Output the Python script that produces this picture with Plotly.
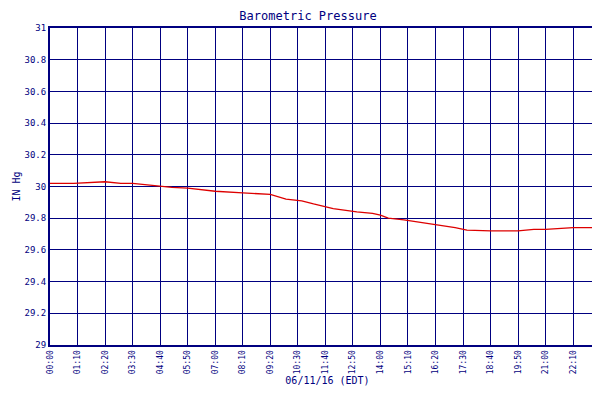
import plotly.graph_objects as go

# minutes after midnight and pressure (inHg)
minutes = [0, 60, 140, 180, 210, 250, 280, 310, 350, 420, 490, 560, 600, 640, 670,
           720, 780, 820, 840, 860, 900, 980, 1030, 1060, 1120, 1190, 1230, 1260,
           1330, 1380, 1410]
pressure = [30.02, 30.02, 30.03, 30.02, 30.02, 30.01, 30.00, 29.995, 29.99, 29.97,
            29.96, 29.95, 29.92, 29.91, 29.89, 29.86, 29.84, 29.83, 29.82, 29.80,
            29.79, 29.76, 29.74, 29.725, 29.72, 29.72, 29.73, 29.73, 29.74, 29.74,
            29.74]

tick_vals = [i * 70 for i in range(20)] + [1401, 1406]
tick_text = ["%02d:%02d" % divmod(v, 60) for v in tick_vals[:20]] + ["23:50", "23:59"]
y_ticks = [29 + 0.2 * i for i in range(11)]
y_text = ["29", "29.2", "29.4", "29.6", "29.8", "30", "30.2", "30.4", "30.6", "30.8", "31"]

navy = "#000080"
fig = go.Figure()
fig.add_trace(go.Scatter(x=minutes, y=pressure, mode="lines", name="Relative Pressure",
                         line=dict(color="#dd0000", width=1.3)))

fig.update_layout(
    width=600, height=400,
    margin=dict(l=42, r=3, t=20, b=63, autoexpand=False),
    paper_bgcolor="white", plot_bgcolor="white",
    font=dict(family="DejaVu Sans Mono", size=9, color=navy),
    title=dict(text="Barometric Pressure", x=0.5, y=0.99, yanchor="top",
               font=dict(size=12, color=navy)),
    showlegend=True,
    legend=dict(orientation="h", x=0.5, xanchor="center", y=-0.165, yanchor="top",
                font=dict(size=8, color=navy)),
)
fig.update_xaxes(range=[0, 1411], tickvals=tick_vals, ticktext=tick_text, tickangle=-90,
                 automargin=False, tickfont=dict(size=8),
                 showgrid=True, gridcolor=navy, gridwidth=1, showline=True,
                 linecolor=navy, linewidth=2, mirror=True, zeroline=False,
                 title=dict(text="06/11/16 (EDT)", standoff=4, font=dict(size=10)))
fig.update_yaxes(range=[29, 31], tickvals=y_ticks, ticktext=y_text,
                 automargin=False,
                 showgrid=True, gridcolor=navy, gridwidth=1, showline=True,
                 linecolor=navy, linewidth=2, mirror=True, zeroline=False,
                 title=dict(text="IN Hg", standoff=2, font=dict(size=10)))

fig.write_html("out.html")
